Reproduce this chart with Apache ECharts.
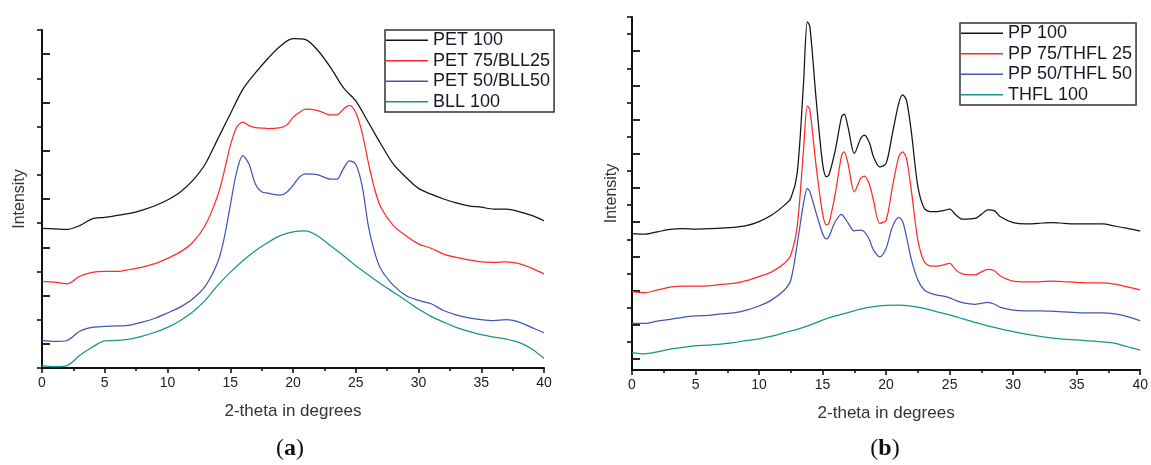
<!DOCTYPE html>
<html><head><meta charset="utf-8">
<script src="https://cdn.jsdelivr.net/npm/echarts@6/dist/echarts.min.js"></script>
<style>html,body{margin:0;padding:0;background:#fff}#c{width:1151px;height:465px}</style>
</head><body><div id="c"></div>
<script>
// ---------- Panel (a) data ----------
const xA = [0,1,2,3,4,5,6,7,8,9,10,11,12,13,14,15,16,17,18,19,20,21,22,23,24,25,26,27,28,29,30,31,32,33,34,35,36,37,38,39,40];
const xAFine = [0,1,2,3,4,5,6,7,8,9,10,11,12,13,14,14.5,15,15.5,16,16.5,17,17.5,18,19,19.5,20,20.5,21,22,23,23.5,24,24.5,25,25.5,26,26.5,27,28,29,30,31,32,33,34,35,36,37,38,39,40];
const pet100 = [3.39,3.38,3.37,3.45,3.59,3.62,3.66,3.70,3.77,3.86,3.98,4.14,4.38,4.72,5.24,5.76,6.27,6.61,6.91,7.17,7.32,7.30,7.07,6.72,6.31,6.03,5.59,5.14,4.72,4.45,4.22,4.10,4.00,3.92,3.86,3.83,3.79,3.79,3.74,3.66,3.55];
const pet75 = [2.29,2.28,2.24,2.40,2.48,2.50,2.50,2.54,2.59,2.66,2.77,2.90,3.10,3.45,4.07,4.55,5.10,5.48,5.59,5.52,5.48,5.47,5.46,5.48,5.53,5.69,5.79,5.86,5.83,5.74,5.74,5.86,5.94,5.79,5.38,4.76,4.21,3.83,3.45,3.24,3.07,2.98,2.86,2.79,2.74,2.70,2.69,2.70,2.66,2.57,2.45];
const pet50 = [1.07,1.05,1.07,1.26,1.34,1.36,1.37,1.39,1.45,1.53,1.64,1.76,1.93,2.19,2.69,3.17,3.86,4.55,4.90,4.72,4.31,4.15,4.12,4.08,4.14,4.28,4.45,4.52,4.50,4.41,4.41,4.62,4.79,4.72,4.28,3.45,2.90,2.55,2.21,2.00,1.90,1.83,1.69,1.60,1.54,1.50,1.48,1.50,1.45,1.34,1.23];
const bll100 = [0.55,0.53,0.55,0.76,0.93,1.06,1.07,1.10,1.16,1.24,1.34,1.48,1.66,1.90,2.21,2.48,2.72,2.93,3.10,3.24,3.32,3.34,3.23,3.03,2.83,2.62,2.43,2.24,2.07,1.90,1.72,1.57,1.45,1.34,1.26,1.19,1.14,1.10,1.03,0.90,0.70];
const namesA = ['PET 100','PET 75/BLL25','PET 50/BLL50','BLL 100'];

// ---------- Panel (b) data ----------
const xB = [0,1,2,3,4,5,6,7,8,9,10,11,12,12.5,13,13.5,13.8,14,14.5,15,15.3,15.5,16,16.5,16.7,17,17.5,18,18.3,18.7,19,19.5,20,20.5,21,21.3,21.6,22,22.5,23,23.5,24,24.5,25,25.5,26,27,27.5,28,28.5,29,30,31,32,33,34,35,36,37,38,39,40];
const xBInt = [0,1,2,3,4,5,6,7,8,9,10,11,12,13,14,15,16,17,18,19,20,21,22,23,24,25,26,27,28,29,30,31,32,33,34,35,36,37,38,39,40];
const pp100 = [4.67,4.65,4.72,4.79,4.81,4.80,4.81,4.83,4.85,4.90,5.02,5.21,5.50,5.70,6.43,9.06,10.86,10.72,8.57,6.72,6.33,6.38,7.11,8.09,8.16,7.79,7.01,7.45,7.55,7.31,6.92,6.62,6.72,7.60,8.48,8.72,8.57,7.60,6.04,5.41,5.31,5.31,5.34,5.38,5.21,5.09,5.11,5.23,5.36,5.34,5.16,4.99,4.95,4.97,4.99,4.97,4.95,4.95,4.95,4.89,4.82,4.74];
const pp75 = [2.97,2.94,3.02,3.10,3.13,3.13,3.14,3.18,3.21,3.29,3.41,3.55,3.80,4.04,4.87,7.11,8.40,8.28,6.62,5.26,4.92,4.97,5.84,6.96,7.06,6.72,5.89,6.28,6.35,6.09,5.65,4.97,5.06,6.04,6.92,7.06,6.87,5.89,4.48,3.85,3.72,3.72,3.75,3.80,3.60,3.49,3.46,3.55,3.62,3.58,3.43,3.28,3.26,3.26,3.28,3.26,3.24,3.23,3.23,3.19,3.11,3.02];
const pp50 = [2.04,2.04,2.11,2.16,2.22,2.26,2.28,2.32,2.35,2.43,2.55,2.73,3.02,3.31,4.35,5.55,5.99,5.89,5.26,4.67,4.51,4.58,5.02,5.23,5.15,4.98,4.75,4.77,4.72,4.48,4.19,3.99,4.24,4.87,5.14,5.02,4.58,3.89,3.31,3.02,2.92,2.87,2.84,2.79,2.71,2.65,2.60,2.63,2.66,2.61,2.51,2.43,2.41,2.41,2.40,2.38,2.36,2.35,2.35,2.32,2.24,2.12];
const thfl100 = [1.19,1.15,1.21,1.29,1.34,1.39,1.41,1.44,1.48,1.54,1.59,1.67,1.77,1.87,1.99,2.14,2.26,2.36,2.46,2.53,2.57,2.58,2.55,2.48,2.38,2.29,2.18,2.07,1.97,1.88,1.80,1.73,1.67,1.62,1.58,1.56,1.53,1.50,1.46,1.36,1.26];
const namesB = ['PP 100','PP 75/THFL 25','PP 50/THFL 50','THFL 100'];

// ---------- Axis tick positions ----------
const yRangeA = [0.5, 7.5];
const yMajorA = [1,2,3,4,5,6,7];
const yMinorA = [0.5,1.5,2.5,3.5,4.5,5.5,6.5,7.5];
const yRangeB = [0.68, 11];
const yMajorB = [1,2,3,4,5,6,7,8,9,10];
const yMinorB = [1.5,2.5,3.5,4.5,5.5,6.5,7.5,8.5,9.5,10.5,11];
const xRange = [0, 40];
const xInterval = 5;

const colors = ['#141414','#ff2a2a','#4455b8','#16968c'];
const FONT = "'Liberation Sans', Arial, Helvetica, sans-serif";
const SERIF = "'Liberation Serif', 'DejaVu Serif', serif";
const AX = '#111';

function pairs(xs, ys){ return xs.map((x,i)=>[x, ys[i]]); }

function xAxisCfg(g){
  return {
    gridIndex:g, type:'value', min:xRange[0], max:xRange[1], interval:xInterval,
    axisLine:{show:true, onZero:false, lineStyle:{color:AX, width:2}},
    axisTick:{show:true, length:5, lineStyle:{color:AX, width:1.6}},
    minorTick:{show:true, splitNumber:2, length:3, lineStyle:{color:AX, width:1.6}},
    splitLine:{show:false}, minorSplitLine:{show:false},
    axisLabel:{fontSize:14, color:'#222', margin:8, fontFamily:FONT},
    name:'2-theta in degrees', nameLocation:'middle', nameGap:35,
    nameTextStyle:{fontSize:17, color:'#333', fontFamily:FONT}
  };
}
function yAxesCfg(g, range, major, minor, gap){
  return [
    {
      gridIndex:g, type:'value', min:range[0], max:range[1],
      axisLine:{show:true, onZero:false, lineStyle:{color:AX, width:2}},
      axisTick:{show:true, customValues:minor, length:5, lineStyle:{color:AX, width:1.6}},
      axisLabel:{show:false}, splitLine:{show:false},
      name:'Intensity', nameLocation:'middle', nameGap:gap,
      nameTextStyle:{fontSize:16, color:'#333', fontFamily:FONT}
    },
    {
      gridIndex:g, type:'value', min:range[0], max:range[1],
      axisLine:{show:false},
      axisTick:{show:true, customValues:major, length:8, lineStyle:{color:AX, width:1.8}},
      axisLabel:{show:false}, splitLine:{show:false}
    }
  ];
}
function legendCfg(names, left, top){
  return {
    data:names, orient:'vertical', left:left, top:top,
    icon:'rect', itemWidth:42, itemHeight:1.5, itemGap:0,
    padding:[0,4,0,1], borderColor:'#333', borderWidth:1.5,
    selectedMode:false,
    textStyle:{fontSize:18, lineHeight:20.5, color:'#181828', fontFamily:FONT}
  };
}
function lineSeries(name, xs, ys, color, xi, yi){
  return {
    name:name, type:'line', xAxisIndex:xi, yAxisIndex:yi,
    data:pairs(xs, ys), showSymbol:false, symbol:'none', smooth:0.3,
    color:color, lineStyle:{color:color, width:1.25}, animation:false
  };
}
function caption(letter, x){
  return {type:'text', x:x, y:449, silent:true, style:{
    text:'({b|' + letter + '})', align:'center', verticalAlign:'middle',
    font:'24px ' + SERIF, fill:'#111',
    rich:{b:{fontWeight:'bold', fontSize:24, fontFamily:SERIF, fill:'#111'}}
  }};
}

const chart = echarts.init(document.getElementById('c'), null, {renderer:'canvas'});
chart.setOption({
  backgroundColor:'#fff',
  animation:false,
  grid:[
    {left:42, top:30, width:502, height:338},
    {left:632, top:17, width:514, height:353}
  ],
  xAxis:[xAxisCfg(0), xAxisCfg(1)],
  yAxis:[].concat(yAxesCfg(0, yRangeA, yMajorA, yMinorA, 14), yAxesCfg(1, yRangeB, yMajorB, yMinorB, 12)),
  legend:[legendCfg(namesA, 385, 30), legendCfg(namesB, 960, 23)],
  series:[
    lineSeries(namesA[0], xA, pet100, colors[0], 0, 0),
    lineSeries(namesA[1], xAFine, pet75, colors[1], 0, 0),
    lineSeries(namesA[2], xAFine, pet50, colors[2], 0, 0),
    lineSeries(namesA[3], xA, bll100, colors[3], 0, 0),
    lineSeries(namesB[0], xB, pp100, colors[0], 1, 2),
    lineSeries(namesB[1], xB, pp75, colors[1], 1, 2),
    lineSeries(namesB[2], xB, pp50, colors[2], 1, 2),
    lineSeries(namesB[3], xBInt, thfl100, colors[3], 1, 2)
  ],
  graphic:[caption('a', 290), caption('b', 885)]
});
</script>
</body></html>
